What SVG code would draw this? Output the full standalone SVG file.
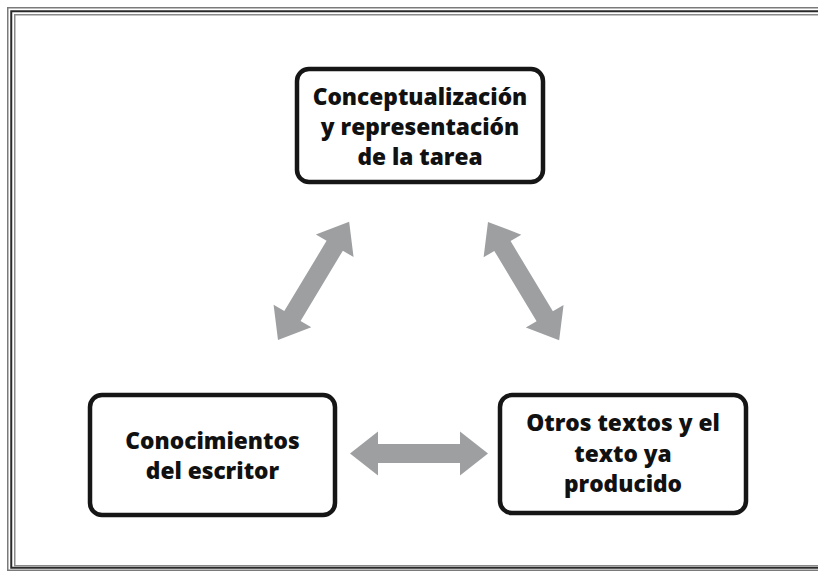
<svg xmlns="http://www.w3.org/2000/svg" width="818" height="571" viewBox="0 0 818 571">
<style>
.frame{fill:none}
.box{fill:#fff;stroke:#161616;stroke-width:4.5}
.lbl{font-family:"Open Sans","Noto Sans",sans-serif;font-weight:800;font-size:22.7px;fill:#111;text-anchor:middle}
.arr{fill:#9d9fa1}
</style>
<defs>
<polygon id="dbl" points="0,0 28,-22 28,-9.5 110,-9.5 110,-22 138,0 110,22 110,9.5 28,9.5 28,22"/>
</defs>
<rect width="818" height="571" fill="#fff"/>
<g id="frame">
<rect class="frame" x="7.75" y="7.75" width="830" height="562.5" stroke="#7a7a7a" stroke-width="1.5"/>
<rect class="frame" x="11.25" y="11.25" width="830" height="556.5" stroke="#2a2a2a" stroke-width="2"/>
<rect class="frame" x="14.75" y="14.75" width="830" height="551" stroke="#8a8a8a" stroke-width="1.5"/>
</g>
<g id="connectors">
<use href="#dbl" class="arr" transform="translate(350,453.5)"/>
<use href="#dbl" class="arr" transform="translate(278,340) rotate(-58.96)"/>
<use href="#dbl" class="arr" transform="translate(488,222) rotate(58.96)"/>
</g>
<g id="node-tarea">
<rect class="box" x="297" y="69" width="246" height="113" rx="12"/>
<text class="lbl" x="420" y="105">Conceptualización</text>
<text class="lbl" x="420" y="135">y representación</text>
<text class="lbl" x="420" y="165">de la tarea</text>
</g>
<g id="node-conocimientos">
<rect class="box" x="90" y="395" width="245" height="120" rx="12"/>
<text class="lbl" x="212.5" y="449">Conocimientos</text>
<text class="lbl" x="212.5" y="479">del escritor</text>
</g>
<g id="node-textos">
<rect class="box" x="500" y="395" width="246" height="118" rx="12"/>
<text class="lbl" x="623" y="431">Otros textos y el</text>
<text class="lbl" x="623" y="462">texto ya</text>
<text class="lbl" x="623" y="492">producido</text>
</g>
</svg>
